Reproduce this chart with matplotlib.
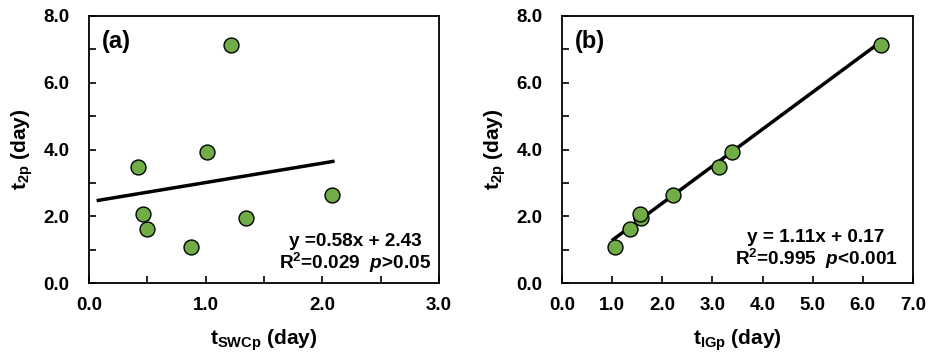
import matplotlib
matplotlib.use("Agg")
import matplotlib.pyplot as plt
from matplotlib.ticker import MultipleLocator, FormatStrFormatter

plt.rcParams['font.family'] = ['Liberation Sans', 'DejaVu Sans']
plt.rcParams['font.weight'] = 'bold'
plt.rcParams['mathtext.fontset'] = 'custom'
plt.rcParams['mathtext.rm'] = 'Liberation Sans:bold'
plt.rcParams['mathtext.it'] = 'Liberation Sans:bold:italic'
plt.rcParams['mathtext.bf'] = 'Liberation Sans:bold'

# Data
t2p = [1.07, 1.61, 1.94, 2.06, 2.63, 3.47, 3.92, 7.12]
t_swcp = [0.874, 0.50, 1.343, 0.466, 2.086, 0.423, 1.009, 1.214]
t_igp = [1.05, 1.36, 1.57, 1.55, 2.22, 3.14, 3.40, 6.37]

fit_a = (0.58, 2.43)
fit_a_x = [0.08, 2.09]
fit_b = (1.11, 0.17)
fit_b_x = [1.02, 6.37]

text_a = "y =0.58x + 2.43\nR$^{2}$=0.029  $p$>0.05"
text_b = "y = 1.11x + 0.17\nR$^{2}$=0.995  $p$<0.001"

fig = plt.figure(figsize=(9.33, 3.63), dpi=100)
W, H = 933, 363
axa = fig.add_axes([89 / W, 1 - 283 / H, 350 / W, 267 / H])
axb = fig.add_axes([562 / W, 1 - 283 / H, 351 / W, 267 / H])

green = '#70AD47'

def style(ax, xmax, xmaj, xmin):
    ax.set_ylim(0, 8)
    ax.set_xlim(0, xmax)
    ax.xaxis.set_major_locator(MultipleLocator(xmaj))
    if xmin:
        ax.xaxis.set_minor_locator(MultipleLocator(xmin))
    ax.yaxis.set_major_locator(MultipleLocator(2))
    ax.yaxis.set_minor_locator(MultipleLocator(1))
    ax.xaxis.set_major_formatter(FormatStrFormatter('%.1f'))
    ax.yaxis.set_major_formatter(FormatStrFormatter('%.1f'))
    ax.tick_params(which='both', direction='in', top=False, right=False,
                   length=5, width=1.2)
    ax.tick_params(axis='x', which='major', pad=10, labelsize=13.5)
    ax.tick_params(axis='y', which='major', pad=14, labelsize=13.5)
    for s in ax.spines.values():
        s.set_linewidth(1.3)
    ax.set_ylabel('t$_{\\mathrm{2p}}$ (day)', fontsize=15, fontweight='bold', labelpad=6)

def line(ax, fit, xs):
    m, b = fit
    ax.plot(xs, [m * x + b for x in xs], color='black', lw=2.5, zorder=2)

# Panel a
style(axa, 3, 1, 0.5)
line(axa, fit_a, fit_a_x)
axa.scatter(t_swcp, t2p, s=115, c=green, edgecolors='black', linewidths=1.0, zorder=3)
axa.set_xlabel('t$_{\\mathrm{SWCp}}$ (day)', fontsize=15, fontweight='bold', labelpad=10)
axa.text(0.037, 0.903, '(a)', transform=axa.transAxes, fontsize=17, fontweight='bold',
         ha='left', va='center')
axa.text(0.76, 0.108, text_a, transform=axa.transAxes, fontsize=13.7, fontweight='bold',
         ha='center', va='center', multialignment='center', linespacing=1.05)

# Panel b
style(axb, 7, 1, None)
line(axb, fit_b, fit_b_x)
axb.scatter(t_igp, t2p, s=115, c=green, edgecolors='black', linewidths=1.0, zorder=3)
axb.set_xlabel('t$_{\\mathrm{IGp}}$ (day)', fontsize=15, fontweight='bold', labelpad=10)
axb.text(0.037, 0.903, '(b)', transform=axb.transAxes, fontsize=17, fontweight='bold',
         ha='left', va='center')
axb.text(0.724, 0.124, text_b, transform=axb.transAxes, fontsize=13.7, fontweight='bold',
         ha='center', va='center', multialignment='center', linespacing=1.05)

fig.savefig('out.png', dpi=100)
